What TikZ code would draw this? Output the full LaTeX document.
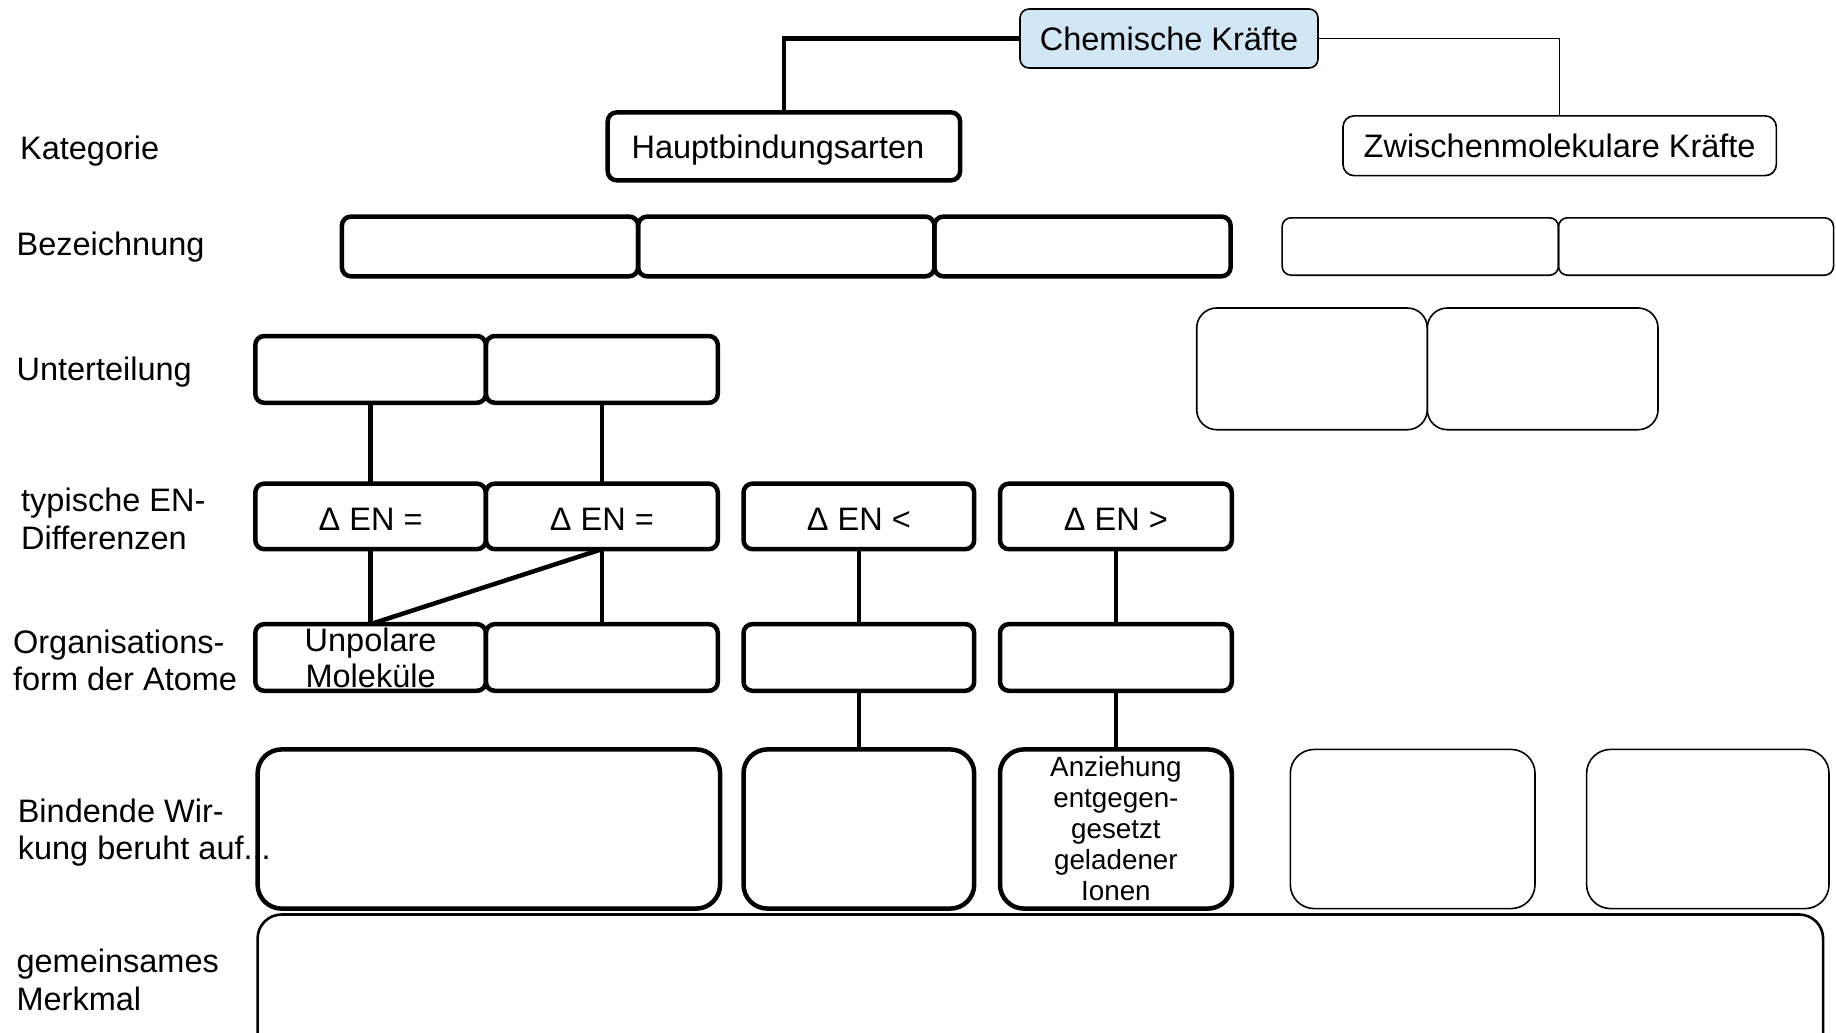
\documentclass[tikz,border=0pt]{standalone}
\usepackage{fontspec}
\setmainfont{Liberation Sans}
\definecolor{chemblue}{HTML}{D2E7F5}
\begin{document}
\begin{tikzpicture}[x=1pt,y=-1pt,
  box/.style={draw, inner sep=0pt, outer sep=0pt, align=center, font=\fontsize{32.5}{36}\selectfont},
  thickbox/.style={box, line width=4.5pt, rounded corners=9pt},
  thinbox/.style={box, line width=1.6pt, rounded corners=9pt},
  entext/.style={text height=28pt},
  link/.style={line width=4.5pt},
  thinlink/.style={line width=1.6pt},
  lbl/.style={anchor=west, align=left, inner sep=0pt, font=\fontsize{32.5}{37.5}\selectfont}]
\useasboundingbox (0,0) rectangle (1836,1033);
\clip (0,0) rectangle (1836,1033);
% top
\node[thinbox, fill=chemblue, minimum width=298, minimum height=59] (chem) at (1169,38.5) {Chemische Kräfte};
\node[thickbox, minimum width=352.4, minimum height=67.9, text height=30.5pt] (haupt) at (783.9,146.35) {Hauptbindungsarten\hspace*{12pt}};
\node[thinbox, minimum width=433.3, minimum height=59.7, rounded corners=11pt] (zwisch) at (1559.65,145.75) {Zwischenmolekulare Kräfte};
\draw[link] (chem.west) -| (haupt.north);
\draw[thinlink] (chem.east) -| (zwisch.north);
% Bezeichnung
\node[thickbox, minimum width=296.2, minimum height=59.7] (bez1) at (490,246.45) {};
\node[thickbox, minimum width=296.3, minimum height=59.7] (bez2) at (786.25,246.45) {};
\node[thickbox, minimum width=296.2, minimum height=59.7] (bez3) at (1082.5,246.45) {};
\node[thinbox, minimum width=276.4, minimum height=57.4] (bez4) at (1420.3,246.5) {};
\node[thinbox, minimum width=275.1, minimum height=57.4] (bez5) at (1696,246.5) {};
% Unterteilung
\node[thickbox, minimum width=230.6, minimum height=66.8] (unt1) at (370.6,369.4) {};
\node[thickbox, minimum width=231.9, minimum height=66.8] (unt2) at (601.85,369.4) {};
\node[thinbox, minimum width=230.6, minimum height=121.7, rounded corners=20pt] (unt3) at (1312,368.85) {};
\node[thinbox, minimum width=230.7, minimum height=121.7, rounded corners=20pt] (unt4) at (1542.65,368.85) {};
% EN
\node[thickbox, entext, minimum width=230.6, minimum height=65.6] (en1) at (370.6,516.4) {Δ EN =};
\node[thickbox, entext, minimum width=231.9, minimum height=65.6] (en2) at (601.85,516.4) {Δ EN =};
\node[thickbox, entext, minimum width=230.7, minimum height=65.6] (en3) at (858.85,516.4) {Δ EN <};
\node[thickbox, entext, minimum width=231.8, minimum height=65.6] (en4) at (1115.9,516.4) {Δ EN >};
% Organisation
\node[thickbox, minimum width=230.6, minimum height=66.7] (org1) at (370.6,657.45) {Unpolare\\Moleküle};
\node[thickbox, minimum width=231.9, minimum height=66.7] (org2) at (601.85,657.45) {};
\node[thickbox, minimum width=230.7, minimum height=66.7] (org3) at (858.85,657.45) {};
\node[thickbox, minimum width=231.8, minimum height=66.7] (org4) at (1115.9,657.45) {};
% Bindende Wirkung
\node[thickbox, minimum width=462.5, minimum height=159.2, rounded corners=24pt] (bind1) at (488.85,829) {};
\node[thickbox, minimum width=230.7, minimum height=159.2, rounded corners=24pt] (bind2) at (858.85,829) {};
\node[thickbox, minimum width=231.8, minimum height=159.2, rounded corners=24pt, font=\fontsize{27.8}{31}\selectfont] (bind3) at (1115.9,829) {Anziehung\\entgegen-\\gesetzt\\geladener\\Ionen};
\node[thinbox, minimum width=244.7, minimum height=159.2, rounded corners=24pt] (bind4) at (1412.65,829) {};
\node[thinbox, minimum width=242.4, minimum height=159.2, rounded corners=24pt] (bind5) at (1707.8,829) {};
% gemeinsames Merkmal
\node[box, line width=2.6pt, rounded corners=24pt, minimum width=1565.5, minimum height=145.5] (gem) at (1040.35,987.25) {};
% connectors
\draw[link] (unt1.south) -- (en1.north);
\draw[link] (unt2.south) -- (en2.north);
\draw[link] (en1.south) -- (org1.north);
\draw[link] (en2.south) -- (org1.north);
\draw[link] (en2.south) -- (org2.north);
\draw[link] (en3.south) -- (org3.north);
\draw[link] (en4.south) -- (org4.north);
\draw[link] (org3.south) -- (bind2.north);
\draw[link] (org4.south) -- (bind3.north);
% left labels
\node[lbl] (l1) at (19.9,151) {Kategorie};
\node[lbl] (l2) at (16.4,247) {Bezeichnung};
\node[lbl] (l3) at (16.4,372.3) {Unterteilung};
\node[lbl] (l4) at (21,518.7) {typische EN-\\Differenzen};
\node[lbl] (l5) at (12.9,660.4) {Organisations-\\form der Atome};
\node[lbl] (l6) at (17.6,832.5) {Bindende Wir-\\kung beruht auf...};
\node[lbl] (l7) at (16.4,980) {gemeinsames\\Merkmal};
\end{tikzpicture}
\end{document}
